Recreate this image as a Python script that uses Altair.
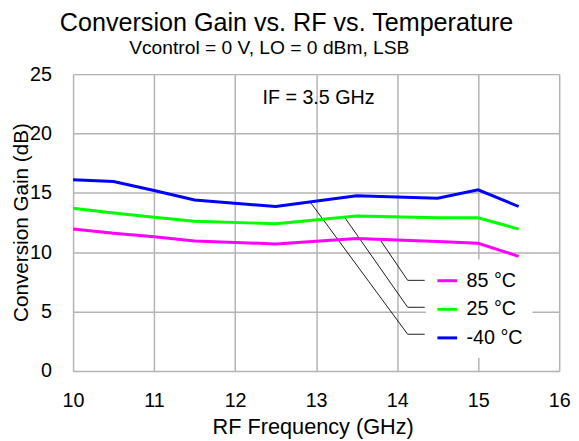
import altair as alt
import pandas as pd

# ---- data ----
freq = [10, 10.5, 11, 11.5, 12.5, 13.5, 14.5, 15, 15.5]
gain_m40 = [16.1, 15.95, 15.2, 14.4, 13.85, 14.75, 14.55, 15.25, 13.85]
gain_25 = [13.7, 13.3, 12.95, 12.6, 12.4, 13.05, 12.9, 12.9, 11.95]
gain_85 = [11.95, 11.6, 11.3, 10.95, 10.7, 11.15, 10.9, 10.75, 9.65]

series_names = ["85 °C", "25 °C", "-40 °C"]
series_colors = ["#ff00ff", "#00ff00", "#0000ff"]

x_ticks = [10, 11, 12, 13, 14, 15, 16]
y_ticks = [0, 5, 10, 15, 20, 25]

# leader lines (curve point -> elbow -> legend), in data units
leader_names = ["85 °C", "25 °C", "-40 °C"]
leader_x = [[13.8, 14.13, 14.34], [13.35, 14.13, 14.34], [12.93, 14.13, 14.34]]
leader_y = [[10.95, 7.63, 7.63], [12.96, 5.36, 5.36], [14.2, 3.09, 3.09]]

note_text = ["IF = 3.5 GHz"]
note_x = [13.03]
note_y = [23.0]

title_text = "Conversion Gain vs. RF vs. Temperature"
subtitle_text = ["Vcontrol = 0 V, LO = 0 dBm, LSB"]

FONT = "Liberation Sans"

rows = []
for name, vals in zip(series_names, [gain_85, gain_25, gain_m40]):
    for f, g in zip(freq, vals):
        rows.append({"freq": f, "gain": g, "temp": name})
df = pd.DataFrame(rows)

lrows = []
for name, xs, ys in zip(leader_names, leader_x, leader_y):
    for i, (xx, yy) in enumerate(zip(xs, ys)):
        lrows.append({"freq": xx, "gain": yy, "grp": name, "ord": i})
ldf = pd.DataFrame(lrows)

ndf = pd.DataFrame({"freq": note_x, "gain": note_y, "txt": note_text})
sdf = pd.DataFrame({"txt": subtitle_text})

x_enc = alt.X(
    "freq:Q",
    scale=alt.Scale(domain=[10, 16], nice=False, zero=False),
    axis=alt.Axis(
        title="RF Frequency (GHz)",
        values=x_ticks,
        format="d",
        ticks=False,
        tickSize=0,
        domain=False,
        grid=True,
        gridColor="#b3b3b3",
        gridWidth=1.5,
        labelFlush=False,
        labelPadding=20,
        labelFontSize=20,
        labelFont=FONT,
        labelColor="#000000",
        titleFontSize=22,
        titleFont=FONT,
        titleFontWeight="normal",
        titleColor="#000000",
        titleX=243,
        titleY=46,
    ),
)
y_enc = alt.Y(
    "gain:Q",
    scale=alt.Scale(domain=[0, 25], nice=False),
    axis=alt.Axis(
        title="Conversion Gain (dB)",
        values=y_ticks,
        ticks=False,
        tickSize=0,
        domain=False,
        grid=True,
        gridColor="#b3b3b3",
        gridWidth=1.5,
        labelFlush=False,
        labelPadding=22,
        labelFontSize=20,
        labelFont=FONT,
        labelColor="#000000",
        titleFontSize=21,
        titleFont=FONT,
        titleFontWeight="normal",
        titleColor="#000000",
        titleX=-42,
        titleY=150,
    ),
)

leaders = alt.Chart(ldf).mark_line(color="#000000", strokeWidth=0.9).encode(
    x=x_enc, y=y_enc, detail="grp:N", order="ord:Q"
)

lines = alt.Chart(df).mark_line(strokeWidth=3).encode(
    x=x_enc,
    y=y_enc,
    color=alt.Color(
        "temp:N",
        sort=series_names,
        scale=alt.Scale(domain=series_names, range=series_colors),
        legend=alt.Legend(
            title=None,
            orient="none",
            legendX=358,
            legendY=188,
            symbolType="stroke",
            symbolSize=400,
            symbolStrokeWidth=3,
            labelFontSize=20,
            labelFont=FONT,
            labelColor="#000000",
            labelOffset=8,
            fillColor="white",
            padding=10,
            rowPadding=7,
        ),
    ),
)

note = alt.Chart(ndf).mark_text(fontSize=20, font=FONT, color="#000000").encode(
    x=x_enc, y=y_enc, text="txt:N"
)

subtitle = alt.Chart(sdf).mark_text(
    fontSize=19.5, font=FONT, color="#000000", baseline="alphabetic", align="center"
).encode(x=alt.value(199), y=alt.value(-20.5), text="txt:N")

chart = (
    alt.layer(leaders, lines, note, subtitle)
    .properties(
        width=493,
        height=301,
        autosize="none",
        padding={"left": 66, "top": 64, "right": 12, "bottom": 68},
        title=alt.Title(
            text=title_text,
            fontSize=25.5,
            font=FONT,
            fontWeight="normal",
            color="#000000",
            anchor="middle",
            frame="group",
            dx=-30,
            offset=2,
        ),
    )
    .configure_view(stroke="#8c8c8c", strokeWidth=2)
    .configure(background="white")
)

chart.save("out.html", embed_options={"renderer": "svg", "actions": False})
